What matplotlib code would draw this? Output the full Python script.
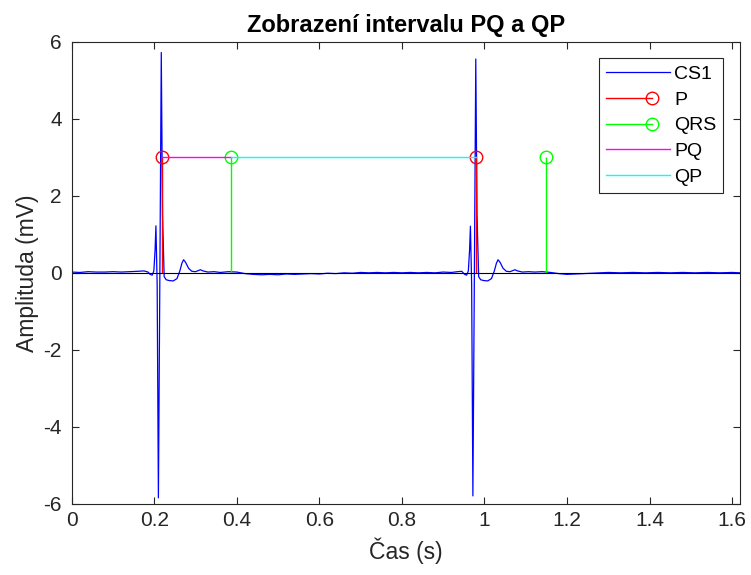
import matplotlib
matplotlib.use("Agg")
import matplotlib.pyplot as plt
from matplotlib.lines import Line2D
from matplotlib.legend_handler import HandlerBase

plt.rcParams['font.family'] = ['Liberation Sans', 'DejaVu Sans']
plt.rcParams['axes.unicode_minus'] = False

# ECG signal CS1 (time in s, amplitude in mV)
time_s = [
    0.000, 0.020, 0.040, 0.060, 0.080, 0.100, 0.120, 0.140, 0.160, 0.175,
    0.185, 0.190, 0.195, 0.199, 0.202, 0.204, 0.207, 0.210, 0.213, 0.217,
    0.220, 0.224, 0.229, 0.236, 0.246, 0.255, 0.262, 0.267, 0.271, 0.276,
    0.283, 0.291, 0.300, 0.307, 0.312, 0.318, 0.330, 0.345, 0.360, 0.380,
    0.400, 0.420, 0.440, 0.460, 0.480, 0.500, 0.520, 0.540, 0.560, 0.580,
    0.600, 0.620, 0.640, 0.660, 0.680, 0.700, 0.720, 0.740, 0.760, 0.780,
    0.800, 0.820, 0.840, 0.860, 0.880, 0.900, 0.920, 0.935, 0.945, 0.952,
    0.957, 0.961, 0.964, 0.966, 0.969, 0.972, 0.975, 0.979, 0.982, 0.986,
    0.991, 0.998, 1.008, 1.017, 1.024, 1.029, 1.033, 1.038, 1.045, 1.053,
    1.062, 1.069, 1.074, 1.080, 1.092, 1.107, 1.122, 1.140, 1.160, 1.180,
    1.200, 1.220, 1.240, 1.260, 1.280, 1.300, 1.330, 1.360, 1.390, 1.420,
    1.450, 1.480, 1.510, 1.540, 1.570, 1.600, 1.620,
]
cs1_mv = [
    0.02, 0.01, 0.03, 0.02, 0.02, 0.03, 0.02, 0.03, 0.04, 0.05,
    0.02, -0.04, -0.06, 0.05, 0.60, 1.22, -0.30, -5.84, -1.00, 5.72,
    1.50, -0.10, -0.18, -0.20, -0.21, -0.15, 0.05, 0.25, 0.34, 0.27,
    0.12, 0.04, 0.03, 0.06, 0.08, 0.05, 0.02, 0.03, 0.01, 0.03,
    0.02, -0.02, -0.04, -0.05, -0.04, -0.05, -0.03, -0.04, -0.03, -0.02,
    -0.03, -0.01, -0.02, 0.00, -0.01, 0.01, 0.00, 0.01, 0.00, 0.01,
    0.00, 0.01, 0.00, 0.01, 0.00, 0.02, 0.01, 0.03, 0.04, -0.04,
    -0.06, 0.05, 0.60, 1.21, -0.30, -5.79, -1.00, 5.55, 1.50, -0.10,
    -0.18, -0.20, -0.21, -0.15, 0.05, 0.25, 0.34, 0.27, 0.12, 0.04,
    0.03, 0.06, 0.08, 0.05, 0.02, 0.03, 0.02, 0.03, 0.01, -0.02,
    -0.04, -0.03, -0.02, -0.01, 0.00, 0.01, 0.00, 0.01, 0.00, 0.01,
    0.00, 0.01, 0.00, 0.01, 0.00, 0.01, 0.00,
]

# detected points
p_times = [0.219, 0.980]
qrs_times = [0.386, 1.148]
marker_level = 3

xtick_vals = [0, 0.2, 0.4, 0.6, 0.8, 1.0, 1.2, 1.4, 1.6]
xtick_labels = ['0', '0.2', '0.4', '0.6', '0.8', '1', '1.2', '1.4', '1.6']
ytick_vals = [-6, -4, -2, 0, 2, 4, 6]


class StemHandler(HandlerBase):
    # matlab-like stem legend entry: line with circle at its end
    def create_artists(self, legend, orig_handle, xdescent, ydescent,
                       width, height, fontsize, trans):
        y = height / 2 - ydescent
        x0 = -xdescent
        x1 = -xdescent + 0.72 * width
        c = orig_handle.get_color()
        ln = Line2D([x0, x1], [y, y], color=c, lw=1.0)
        mk = Line2D([x1], [y], marker='o', ms=9, mfc='none', mec=c, mew=1.0, ls='none')
        ln.set_transform(trans)
        mk.set_transform(trans)
        return [ln, mk]


fig = plt.figure(figsize=(7.51, 5.75), dpi=100)
ax = fig.add_axes([0.0955, 0.1235, 0.8903, 0.804])

h_cs1, = ax.plot(time_s, cs1_mv, color='blue', lw=0.9)

ax.vlines(p_times, 0, marker_level, color='red', lw=1.0)
h_p, = ax.plot(p_times, [marker_level] * len(p_times), 'o', ms=9, mfc='none',
               mec='red', mew=1.0, color='red')
ax.vlines(qrs_times, 0, marker_level, color='#00ff00', lw=1.0)
h_qrs, = ax.plot(qrs_times, [marker_level] * len(qrs_times), 'o', ms=9, mfc='none',
                 mec='#00ff00', mew=1.0, color='#00ff00')

h_pq, = ax.plot([p_times[0], qrs_times[0]], [marker_level, marker_level],
                color='magenta', lw=1.0)
h_qp, = ax.plot([qrs_times[0], p_times[1]], [marker_level, marker_level],
                color='cyan', lw=1.0)

ax.axhline(0, color='black', lw=0.8)

ax.set_xlim(0, 1.62)
ax.set_ylim(-6, 6)
ax.set_xticks(xtick_vals)
ax.set_xticklabels(xtick_labels)
ax.set_yticks(ytick_vals)
ax.tick_params(direction='in', top=True, right=True, length=5, width=0.8,
               labelsize=15, colors='#262626')
ax.tick_params(axis='x', pad=5)
ax.tick_params(axis='y', pad=7)
for sp in ax.spines.values():
    sp.set_color('#262626')
    sp.set_linewidth(0.8)

ax.set_title('Zobrazení intervalu PQ a QP', fontsize=17, fontweight='bold', pad=7)
ax.set_xlabel('Čas (s)', fontsize=16.5, color='#262626', labelpad=5.5)
ax.set_ylabel('Amplituda (mV)', fontsize=16.5, color='#262626', labelpad=3)

leg = ax.legend([h_cs1, h_p, h_qrs, h_pq, h_qp], ['CS1', 'P', 'QRS', 'PQ', 'QP'],
                handler_map={h_p: StemHandler(), h_qrs: StemHandler()},
                loc='upper right', bbox_to_anchor=(0.9746, 0.9641), borderaxespad=0,
                fontsize=14, fancybox=False, framealpha=1, edgecolor='#262626',
                handlelength=3.3, handletextpad=0.2, labelspacing=0.42,
                borderpad=0.36)
leg.get_frame().set_linewidth(0.8)

plt.savefig('out.png', dpi=100)
